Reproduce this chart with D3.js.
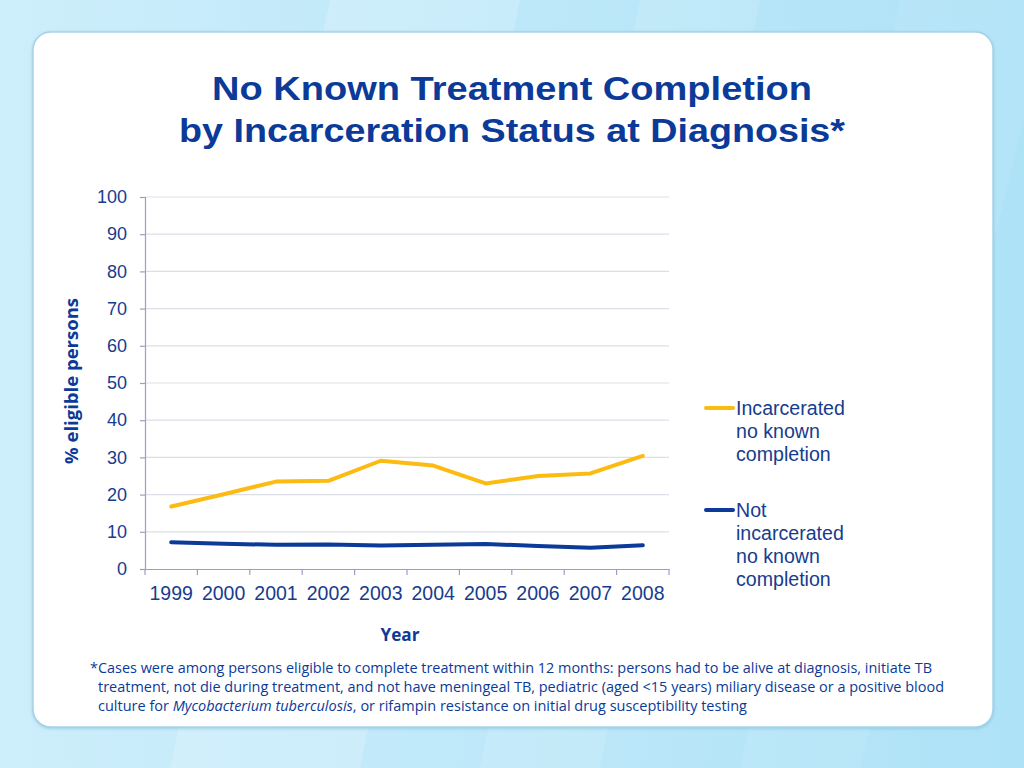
<!DOCTYPE html>
<html><head><meta charset="utf-8">
<script src="https://cdn.jsdelivr.net/npm/d3@7"></script>
<style>html,body{margin:0;padding:0;width:1024px;height:768px;overflow:hidden;}</style>
</head><body>
<script>
const years = ["1999","2000","2001","2002","2003","2004","2005","2006","2007","2008"];
const incarcerated = [16.8, 20.1, 23.5, 23.7, 29.1, 27.8, 23.0, 25.0, 25.7, 30.4];
const notIncarcerated = [7.2, 6.8, 6.5, 6.6, 6.3, 6.5, 6.7, 6.2, 5.7, 6.4];
const yTicks = [0,10,20,30,40,50,60,70,80,90,100];
const seriesNames = [["Incarcerated","no known","completion"],["Not","incarcerated","no known","completion"]];
const titleLines = ["No Known Treatment Completion","by Incarceration Status at Diagnosis*"];

const W=1024,H=768;
const svg=d3.select("body").append("svg").attr("width",W).attr("height",H);
const defs=svg.append("defs");
const bg=defs.append("linearGradient").attr("id","bg").attr("x1","0").attr("y1","0").attr("x2","1").attr("y2","0");
bg.append("stop").attr("offset","0").attr("stop-color","#cdeefb");
bg.append("stop").attr("offset","1").attr("stop-color","#aee2f7");
svg.append("rect").attr("width",W).attr("height",H).attr("fill","url(#bg)");
svg.append("path").attr("d","M330,0 L520,0 L360,768 L170,768 Z").attr("fill","#ffffff").attr("opacity",0.18);
svg.append("path").attr("d","M640,0 L760,0 L600,768 L480,768 Z").attr("fill","#ffffff").attr("opacity",0.12);
svg.append("path").attr("d","M900,0 L1024,0 L1024,120 L860,768 L740,768 Z").attr("fill","#ffffff").attr("opacity",0.08);
const f=defs.append("filter").attr("id","sh").attr("x","-5%").attr("y","-5%").attr("width","110%").attr("height","110%");
f.append("feDropShadow").attr("dx",0).attr("dy",1).attr("stdDeviation",1.5).attr("flood-color","#6aa9c8").attr("flood-opacity",0.5);
svg.append("rect").attr("x",33).attr("y",32).attr("width",960).attr("height",695).attr("rx",18)
  .attr("fill","#ffffff").attr("stroke","#a6d3ea").attr("stroke-width",1.5).attr("filter","url(#sh)");

const blue="#0b3a98", textBlue="#173c8e";
const titleFont="'Liberation Sans Narrow','Liberation Sans',Arial,sans-serif";
svg.append("text").attr("x",512).attr("y",100).attr("text-anchor","middle")
  .attr("font-family",titleFont).attr("font-weight","bold").attr("font-size",34)
  .attr("fill",blue).attr("textLength",600).attr("lengthAdjust","spacingAndGlyphs").text(titleLines[0]);
svg.append("text").attr("x",512).attr("y",142).attr("text-anchor","middle")
  .attr("font-family",titleFont).attr("font-weight","bold").attr("font-size",34)
  .attr("fill",blue).attr("textLength",666).attr("lengthAdjust","spacingAndGlyphs").text(titleLines[1]);

const x0=145,x1=669,y0=569,y1=197;
const xb=d3.scaleBand().domain(years).range([x0,x1]);
const y=d3.scaleLinear().domain([0,100]).range([y0,y1]);
const g=svg.append("g");
g.selectAll("line.grid").data(yTicks.filter(d=>d>0)).join("line")
  .attr("x1",x0).attr("x2",x1).attr("y1",d=>y(d)).attr("y2",d=>y(d))
  .attr("stroke","#dcdfe8").attr("stroke-width",1.2);
const ya=g.append("g").attr("transform",`translate(${x0},0)`).call(d3.axisLeft(y).tickValues(yTicks).tickSize(5).tickPadding(13));
ya.select(".domain").attr("stroke","#a09cc6").attr("stroke-width",1.2);
ya.selectAll(".tick line").attr("stroke","#a09cc6").attr("stroke-width",1.2);
ya.selectAll(".tick text").attr("font-family","'Liberation Sans',Arial,sans-serif").attr("font-size",18).attr("fill",textBlue);
const xa=g.append("g").attr("transform",`translate(0,${y0})`).call(d3.axisBottom(xb).tickSize(0).tickPadding(17));
xa.select(".domain").attr("stroke","#a09cc6").attr("stroke-width",1.2);
xa.selectAll(".tick text").attr("font-family","'Liberation Sans',Arial,sans-serif").attr("font-size",19.5).attr("fill",textBlue);
g.selectAll("line.xt").data(xb.domain().concat(["end"])).join("line")
  .attr("x1",(d,i)=>x0+i*xb.step()).attr("x2",(d,i)=>x0+i*xb.step())
  .attr("y1",y0).attr("y2",y0+6).attr("stroke","#a09cc6").attr("stroke-width",1.2);

const line=d3.line().x((d,i)=>xb(years[i])+xb.bandwidth()/2).y(d=>y(d));
g.append("path").datum(incarcerated).attr("d",line).attr("fill","none").attr("stroke","#fbbb12").attr("stroke-width",4).attr("stroke-linejoin","round").attr("stroke-linecap","round");
g.append("path").datum(notIncarcerated).attr("d",line).attr("fill","none").attr("stroke","#0b3a98").attr("stroke-width",4).attr("stroke-linejoin","round").attr("stroke-linecap","round");

svg.append("text").attr("x",400).attr("y",641).attr("text-anchor","middle")
  .attr("font-family","'Open Sans',sans-serif").attr("font-weight","bold").attr("font-size",17).attr("fill",blue)
  .attr("textLength",39).attr("lengthAdjust","spacingAndGlyphs").text("Year");
svg.append("text").attr("transform","translate(78,381) rotate(-90)").attr("text-anchor","middle")
  .attr("font-family","'Open Sans',sans-serif").attr("font-weight","bold").attr("font-size",17).attr("fill",blue)
  .attr("textLength",166).attr("lengthAdjust","spacingAndGlyphs").text("% eligible persons");

const leg=[{c:"#fbbb12",y:408,lines:seriesNames[0]},{c:"#0b3a98",y:510,lines:seriesNames[1]}];
leg.forEach(L=>{
  svg.append("line").attr("x1",706).attr("x2",733).attr("y1",L.y).attr("y2",L.y).attr("stroke",L.c).attr("stroke-width",4).attr("stroke-linecap","round");
  L.lines.forEach((t,i)=>{
    svg.append("text").attr("x",736).attr("y",L.y+7+i*23).attr("font-family","'Liberation Sans',Arial,sans-serif")
      .attr("font-size",19.6).attr("fill",textBlue).text(t);
  });
});

const fn=svg.append("g").attr("font-family","'Open Sans',sans-serif").attr("font-size",14).attr("fill",blue);
fn.append("text").attr("x",90).attr("y",673).attr("textLength",842).attr("lengthAdjust","spacingAndGlyphs")
  .text("*Cases were among persons eligible to complete treatment within 12 months: persons had to be alive at diagnosis, initiate TB");
fn.append("text").attr("x",98).attr("y",692).attr("textLength",846).attr("lengthAdjust","spacingAndGlyphs")
  .text("treatment, not die during treatment, and not have meningeal TB, pediatric (aged <15 years) miliary disease or a positive blood");
const t3=fn.append("text").attr("x",98).attr("y",711).attr("textLength",649).attr("lengthAdjust","spacingAndGlyphs");
t3.append("tspan").text("culture for ");
t3.append("tspan").attr("font-style","italic").text("Mycobacterium tuberculosis");
t3.append("tspan").text(", or rifampin resistance on initial drug susceptibility testing");
</script>
</body></html>
